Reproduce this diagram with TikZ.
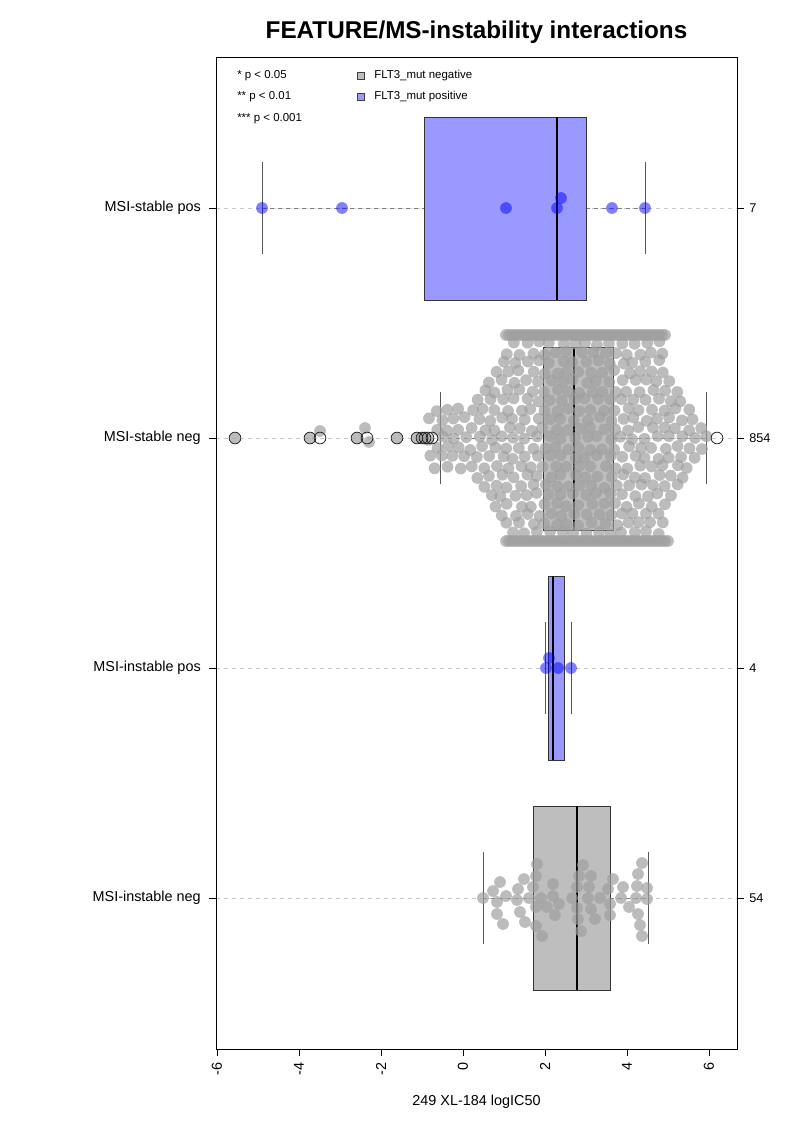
\documentclass[tikz,border=0pt]{standalone}
\usepackage{fontspec}
\setmainfont{Liberation Sans}
\definecolor{bluebox}{RGB}{153,153,255}
\definecolor{graybox}{RGB}{190,190,190}
\definecolor{ptgray}{RGB}{160,160,160}
\definecolor{gridgray}{RGB}{200,200,200}
\begin{document}
\begin{tikzpicture}[x=0.75pt,y=-0.75pt,
  gpt/.style={fill=ptgray,fill opacity=0.7,draw=none},
  bpt/.style={fill=blue,fill opacity=0.5,draw=none},
  outl/.style={draw=black!85,line width=0.6pt,fill=none},
  gridln/.style={draw=gridgray,dash pattern=on 3pt off 3pt,line width=0.6pt},
  wdash/.style={draw=black!50,dash pattern=on 3pt off 3pt,line width=0.75pt},
  wcap/.style={draw=black!65,line width=0.75pt},
  boxb/.style={draw=black!80,line width=0.75pt},
  med/.style={draw=black,line width=2pt},
  lab/.style={font=\fontsize{10.8}{12}\selectfont,inner sep=0pt},
  leg/.style={font=\fontsize{8.6}{10}\selectfont,inner sep=0pt,anchor=west},
  tick/.style={draw=black,line width=0.75pt}]
\useasboundingbox (0,0) rectangle (793,1122);
\fill[white] (0,0) rectangle (793,1122);

% grid lines
\foreach \yy in {208,438,668,898} \draw[gridln] (216,\yy) -- (737,\yy);

% ---- row 1: MSI-stable pos (blue)
\draw[wdash] (262,208) -- (424,208);
\draw[wdash] (586,208) -- (645,208);
\draw[wcap] (262,162) -- (262,254);
\draw[wcap] (645,162) -- (645,254);
\filldraw[fill=bluebox,boxb] (424,117) rectangle (586,300);
\draw[med] (557,117) -- (557,300);

% ---- row 2: MSI-stable neg (gray)
\draw[wdash] (440,438) -- (543,438);
\draw[wdash] (613,438) -- (706,438);
\draw[wcap] (440,392) -- (440,484);
\draw[wcap] (706,392) -- (706,484);
\filldraw[fill=graybox,boxb] (543,347) rectangle (613,530);
\draw[med] (574,347) -- (574,530);

% ---- row 3: MSI-instable pos (blue)
\draw[wcap] (545,622) -- (545,714);
\draw[wcap] (571,622) -- (571,714);
\filldraw[fill=bluebox,boxb] (548,576) rectangle (564,760);
\draw[med] (553,576) -- (553,760);

% ---- row 4: MSI-instable neg (gray)
\draw[wdash] (483,898) -- (533,898);
\draw[wdash] (610,898) -- (648,898);
\draw[wcap] (483,852) -- (483,944);
\draw[wcap] (648,852) -- (648,944);
\filldraw[fill=graybox,boxb] (533,806) rectangle (610,990);
\draw[med] (577,806) -- (577,990);

% ---- points row 1
\foreach \px/\py in {262/208,342/208,506/208,557/208,561/198,612/208,645/208}
  \fill[bpt] (\px,\py) circle[radius=4.4pt];

% ---- points row 3
\foreach \px/\py in {546/668,558/668,571/668,549/658}
  \fill[bpt] (\px,\py) circle[radius=4.4pt];

% ---- points row 2 : swarm
\pgfmathsetseed{42}
\foreach \k in {0,...,46}{
  \pgfmathsetmacro\xx{430+6*\k}
  \pgfmathsetmacro\hh{\xx<470 ? 30 : (\xx<505 ? 30+(\xx-470)*65/35 : (\xx<=660 ? 95 : max(0,95-(\xx-660)*2.05)))}
  \pgfmathsetmacro\off{mod(\k,2)*10}
  \foreach \m in {-5,...,5}{
    \pgfmathsetmacro\yy{438+\off+19*\m}
    \pgfmathtruncatemacro\ok{abs(\yy-438)<=\hh+0.01 ? 1 : 0}
    \ifnum\ok=1
      \pgfmathsetmacro\jx{\xx+(rnd-0.5)*4}
      \pgfmathsetmacro\jy{\yy+(rnd-0.5)*4}
      \fill[gpt] (\jx,\jy) circle[radius=4.4pt];
    \fi
  }
}
\foreach \px in {506,509,...,665} \fill[gpt] (\px,335) circle[radius=4.4pt];
\foreach \px in {506,509,...,668} \fill[gpt] (\px,541) circle[radius=4.4pt];
\foreach \px/\py in {235/438,310/438,320/431,357/438,365/428,369/442,397/438,417/438,422/438,425/438}
  \fill[gpt] (\px,\py) circle[radius=4.4pt];
% outliers
\foreach \px in {235,310,320,357,367,397,417,422,425,428,432,717}
  \draw[outl] (\px,438) circle[radius=4.4pt];

% ---- points row 4
\foreach \px/\py in {483/898,493/891,500/882,497/902,497/914,503/924,506/896,517/900,518/889,524/879,
  520/912,525/922,529/898,533/887,536/876,537/864,536/907,536/926,542/936,541/898,547/907,553/884,
  553/896,555/915,559/904,572/898,577/887,577/908,578/919,579/876,583/865,581/931,588/898,589/887,
  591/876,591/909,595/919,600/898,608/889,610/904,610/915,613/879,621/898,623/887,629/907,636/898,
  637/886,638/874,642/863,638/914,640/925,642/936,647/888,647/899}
  \fill[gpt] (\px,\py) circle[radius=4.4pt];

% ---- frame and axes
\draw[line width=0.75pt] (216,57) rectangle (737,1049);
\foreach \v in {-6,-4,-2,0,2,4,6}{
  \draw[tick] ({463+41*\v},1049) -- ({463+41*\v},1056);
}
\node[lab,rotate=90,anchor=east] (tm6) at (217,1062) {-6};
\node[lab,rotate=90,anchor=east] (tm4) at (299,1062) {-4};
\node[lab,rotate=90,anchor=east] (tm2) at (381,1062) {-2};
\node[lab,rotate=90,anchor=east] (t0) at (463,1062) {0};
\node[lab,rotate=90,anchor=east] (t2) at (545,1062) {2};
\node[lab,rotate=90,anchor=east] (t4) at (627,1062) {4};
\node[lab,rotate=90,anchor=east] (t6) at (709,1062) {6};

\foreach \yy in {208,438,668,898}{
  \draw[tick] (209,\yy) -- (216,\yy);
  \draw[tick] (737,\yy) -- (744,\yy);
}
\node[lab,anchor=east] (l1) at (201,208) {MSI-stable pos};
\node[lab,anchor=east] (l2) at (201,438) {MSI-stable neg};
\node[lab,anchor=east] (l3) at (201,668) {MSI-instable pos};
\node[lab,anchor=east] (l4) at (201,898) {MSI-instable neg};
\node[lab,anchor=west,font=\fontsize{9.5}{11}\selectfont] (r1) at (749,208) {7};
\node[lab,anchor=west,font=\fontsize{9.5}{11}\selectfont] (r2) at (749,438) {854};
\node[lab,anchor=west,font=\fontsize{9.5}{11}\selectfont] (r3) at (749,668) {4};
\node[lab,anchor=west,font=\fontsize{9.5}{11}\selectfont] (r4) at (749,898) {54};

\node[lab,anchor=base] (xlab) at (476.5,1105) {249 XL-184 logIC50};
\node[inner sep=0pt,anchor=base,font=\bfseries\fontsize{18.2}{20}\selectfont] (title) at (476.5,38) {FEATURE/MS-instability interactions};

% ---- legend
\node[leg] (p1) at (237,76) {* p < 0.05};
\node[leg] (p2) at (237,97) {** p < 0.01};
\node[leg] (p3) at (237,119) {*** p < 0.001};
\filldraw[fill=graybox,draw=black!75,line width=0.6pt] (357.5,72.5) rectangle (364.5,79.5);
\filldraw[fill=bluebox,draw=black!75,line width=0.6pt] (357.5,93.5) rectangle (364.5,100.5);
\node[leg] (g1) at (374,76) {FLT3\_mut negative};
\node[leg] (g2) at (374,97) {FLT3\_mut positive};
\end{tikzpicture}
\end{document}
